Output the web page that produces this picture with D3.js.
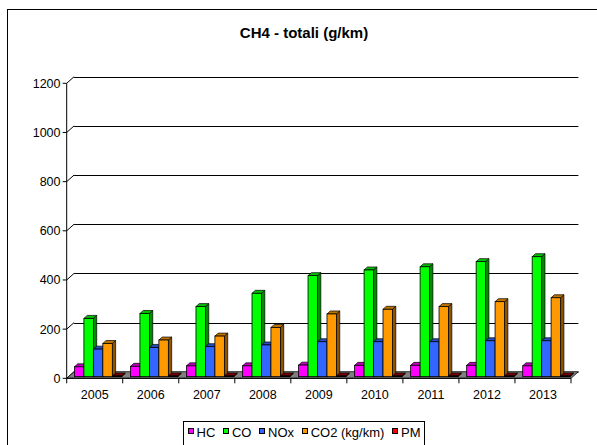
<!DOCTYPE html>
<html><head><meta charset="utf-8">
<script src="https://cdn.jsdelivr.net/npm/d3@7"></script>
<style>html,body{margin:0;padding:0;background:#fff;}svg{display:block;font-family:"Liberation Sans",Arial,sans-serif;}</style>
</head><body>
<script>
const years = ["2005","2006","2007","2008","2009","2010","2011","2012","2013"];
const seriesNames = ["HC","CO","NOx","CO2 (kg/km)","PM"];
const seriesColors = ["#FF00FF","#00FF00","#3366FF","#FF9900","#FF0000"];
const HC  = [40, 42, 44, 44, 47, 46, 46, 46, 44];
const CO  = [237, 257, 285, 339, 411, 434, 447, 468, 488];
const NOx = [112, 119, 122, 129, 142, 142, 142, 146, 146];
const CO2 = [135, 149, 165, 200, 255, 274, 285, 305, 321];
const PM  = [3, 3, 3, 3, 3, 3, 3, 3, 3];
const seriesValues = [HC, CO, NOx, CO2, PM];
const yTicks = [0, 200, 400, 600, 800, 1000, 1200];
const title = "CH4 - totali (g/km)";

const W = 597, H = 445;
const svg = d3.select("body").append("svg").attr("width", W).attr("height", H);

// outer border
svg.append("rect").attr("x", 7.5).attr("y", 9.5).attr("width", 600).attr("height", 450)
  .attr("fill", "#fff").attr("stroke", "#000").attr("stroke-width", 1);

svg.append("text").attr("x", 304).attr("y", 38).attr("text-anchor", "middle")
  .attr("font-size", 15).attr("font-weight", "bold").text(title);

// 3D geometry
const DX = 7.4, DY = -6.6;
const x = d3.scaleBand().domain(years).range([66.7, 571]).padding(0);
const y = d3.scaleLinear().domain([0, 1200]).range([378.3, 83.3]);
const xs = d3.scaleBand().domain(seriesNames)
  .range([0.105 * x.bandwidth(), 0.95 * x.bandwidth()]).padding(0);
const d0 = 0.25, d1 = 0.7;

const g = svg.append("g");

// back wall gridlines
yTicks.forEach(t => {
  const yy = Math.round(y(t) + DY) + 0.5;
  g.append("line").attr("x1", x.range()[0] + DX).attr("x2", x.range()[1] + DX)
    .attr("y1", yy).attr("y2", yy).attr("stroke", "#000").attr("stroke-width", 1);
  g.append("line").attr("x1", x.range()[0]).attr("y1", y(t))
    .attr("x2", x.range()[0] + DX).attr("y2", y(t) + DY)
    .attr("stroke", "#000").attr("stroke-width", 1);
  g.append("line").attr("x1", x.range()[0] - 4).attr("x2", x.range()[0])
    .attr("y1", y(t)).attr("y2", y(t)).attr("stroke", "#000");
  g.append("text").attr("x", 60.5).attr("y", y(t) + 4.5).attr("text-anchor", "end")
    .attr("font-size", 12.5).text(t);
});

// floor
const fx0 = x.range()[0], fx1 = x.range()[1], fy = y(0);
g.append("path")
  .attr("d", `M${fx0},${fy}L${fx1},${fy}L${fx1 + DX},${fy + DY}L${fx0 + DX},${fy + DY}Z`)
  .attr("fill", "#808080").attr("stroke", "#000").attr("stroke-width", 0.8);

g.append("line").attr("x1", fx0).attr("x2", fx0).attr("y1", y(1200)).attr("y2", fy)
  .attr("stroke", "#000").attr("stroke-width", 1);

// bars
function shade(c, k) { const r = d3.rgb(c); return d3.rgb(r.r * k, r.g * k, r.b * k).toString(); }
years.forEach((yr, yi) => {
  seriesNames.forEach((s, si) => {
    const v = seriesValues[si][yi];
    const bx = x(yr) + xs(s) + DX * d0;
    const bw = xs.bandwidth();
    const by0 = y(0) + DY * d0;
    const byt = y(v) + DY * d0;
    const ddx = DX * (d1 - d0), ddy = DY * (d1 - d0);
    const col = si === 4 ? "#CC0000" : seriesColors[si];
    g.append("path").attr("d", `M${bx + bw},${by0}L${bx + bw + ddx},${by0 + ddy}L${bx + bw + ddx},${byt + ddy}L${bx + bw},${byt}Z`)
      .attr("fill", shade(col, 0.55)).attr("stroke", "#000").attr("stroke-width", 0.7).attr("stroke-linejoin", "round");
    g.append("path").attr("d", `M${bx},${byt}L${bx + bw},${byt}L${bx + bw + ddx},${byt + ddy}L${bx + ddx},${byt + ddy}Z`)
      .attr("fill", shade(col, si === 4 ? 0.6 : 0.75)).attr("stroke", "#000").attr("stroke-width", 0.7).attr("stroke-linejoin", "round");
    g.append("rect").attr("x", bx).attr("y", byt).attr("width", bw).attr("height", Math.max(0, by0 - byt))
      .attr("fill", col).attr("stroke", "#000").attr("stroke-width", 0.8);
  });
});

// front x axis
g.append("line").attr("x1", fx0).attr("x2", fx1).attr("y1", fy).attr("y2", fy).attr("stroke", "#000").attr("stroke-width", 1);
years.forEach((yr, i) => {
  g.append("line").attr("x1", x(yr)).attr("x2", x(yr)).attr("y1", fy).attr("y2", fy + 5).attr("stroke", "#000");
  g.append("text").attr("x", x(yr) + x.bandwidth() / 2).attr("y", 399).attr("text-anchor", "middle")
    .attr("font-size", 12.5).text(yr);
});
g.append("line").attr("x1", fx1).attr("x2", fx1).attr("y1", fy).attr("y2", fy + 5).attr("stroke", "#000");

// legend (flow layout filling the box)
const lg = svg.append("g");
const boxX = 183.5, boxW = 241, sq = 6, gapT = 3, margin = 4, fs = 13;
lg.append("rect").attr("x", boxX).attr("y", 421.5).attr("width", boxW).attr("height", 40)
  .attr("fill", "#fff").attr("stroke", "#000");
const texts = seriesNames.map(s => lg.append("text").attr("font-size", fs).attr("y", 437).text(s));
const widths = texts.map(t => t.node().getComputedTextLength());
const used = d3.sum(widths) + seriesNames.length * (sq + gapT) + 2 * margin;
const gapI = (boxW - used) / (seriesNames.length - 1);
let cx = boxX + margin;
seriesNames.forEach((s, i) => {
  lg.append("rect").attr("x", Math.round(cx) + 0.5).attr("y", 428.5).attr("width", sq - 1).attr("height", sq - 1)
    .attr("fill", seriesColors[i]).attr("stroke", "#000").attr("stroke-width", 1);
  texts[i].attr("x", cx + sq + gapT);
  cx += sq + gapT + widths[i] + gapI;
});
</script>
</body></html>
